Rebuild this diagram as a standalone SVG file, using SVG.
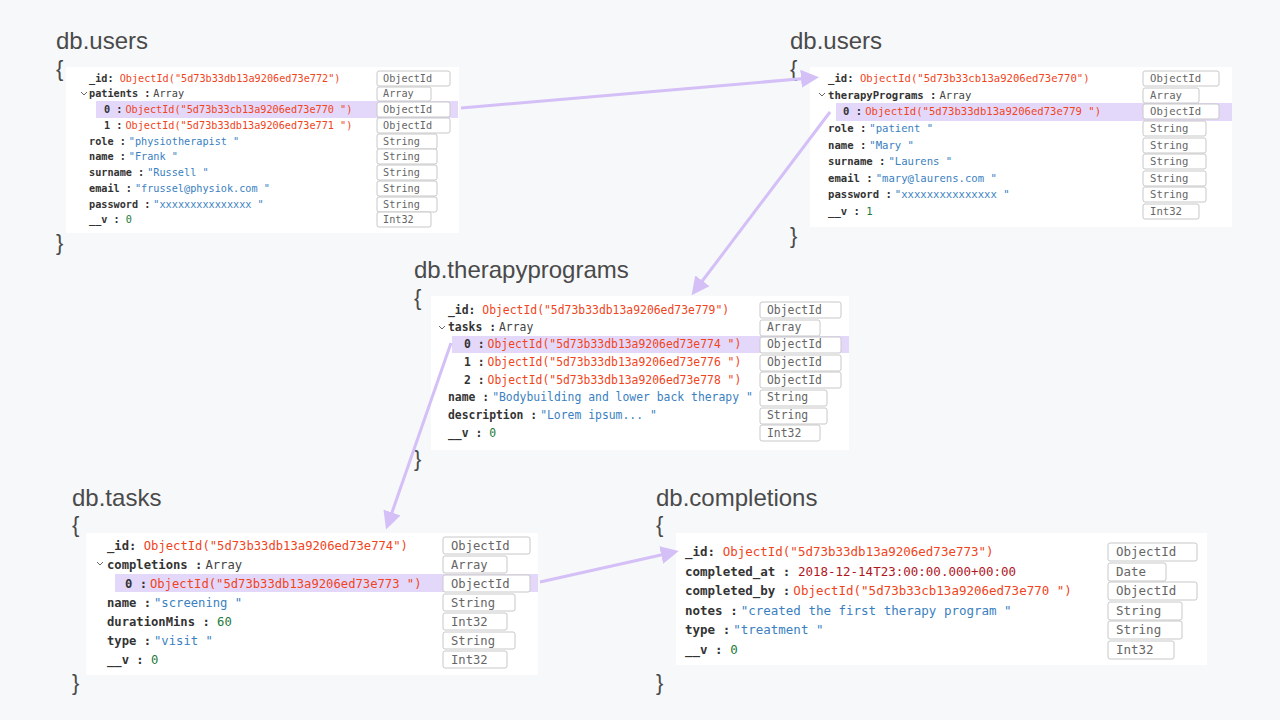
<svg xmlns="http://www.w3.org/2000/svg" width="1280" height="720" viewBox="0 0 1280 720">
<style>
.t{font-family:"Liberation Sans",Arial,sans-serif;font-size:24px;fill:#4a4a4a}
.b{font-family:"Liberation Sans",Arial,sans-serif;font-size:22px;fill:#4a4a4a}
.card{fill:#fff}
.hl{fill:#e4d8fa}
.m{font-family:"DejaVu Sans Mono",monospace}
.k{font-weight:bold;fill:#333}
.o{fill:#f0441c}
.s{fill:#3a7fc1}
.n{fill:#1c7a3a}
.d{fill:#b0161e}
.a{fill:#444}
.ty rect{fill:#fff;stroke:#c8c8c8;stroke-width:1}
.ty text{font-family:"DejaVu Sans Mono",monospace;fill:#666}
.chev{fill:none;stroke:#666;stroke-width:1}
.con{stroke:#d4bff7;stroke-width:3;fill:none;marker-end:url(#ah)}
</style>
<defs>
<marker id="ah" markerWidth="6" markerHeight="6" refX="3" refY="3" orient="auto" markerUnits="strokeWidth"><path d="M0,0L6,3L0,6z" fill="#d4bff7"/></marker>
</defs>
<rect width="1280" height="720" fill="#f7f8fa"/>

<g id="users1">
<text class="t" x="56" y="49">db.users</text>
<text class="b" x="56" y="76">{</text>
<text class="b" x="56" y="250">}</text>
<rect class="card" x="66" y="67" width="393" height="166"/>
<rect class="hl" x="96" y="101" width="362" height="17"/>
<g class="m" font-size="10.2">
<text x="89" y="82"><tspan class="k">_id:</tspan> <tspan class="o">ObjectId("5d73b33db13a9206ed73e772")</tspan></text>
<path class="chev" d="M81,92l3,3l3,-3"/>
<text x="89" y="97"><tspan class="k">patients :</tspan><tspan class="a" dx="3">Array</tspan></text>
<text x="104" y="113"><tspan class="k">0 :</tspan><tspan class="o" dx="3">ObjectId("5d73b33cb13a9206ed73e770 ")</tspan></text>
<text x="104" y="129"><tspan class="k">1 :</tspan><tspan class="o" dx="3">ObjectId("5d73b33db13a9206ed73e771 ")</tspan></text>
<text x="89" y="145"><tspan class="k">role :</tspan><tspan class="s" dx="3">"physiotherapist "</tspan></text>
<text x="89" y="160"><tspan class="k">name :</tspan><tspan class="s" dx="3">"Frank "</tspan></text>
<text x="89" y="176"><tspan class="k">surname :</tspan><tspan class="s" dx="3">"Russell "</tspan></text>
<text x="89" y="192"><tspan class="k">email :</tspan><tspan class="s" dx="3">"frussel@physiok.com "</tspan></text>
<text x="89" y="208"><tspan class="k">password :</tspan><tspan class="s" dx="3">"xxxxxxxxxxxxxxx "</tspan></text>
<text x="89" y="223"><tspan class="k">__v :</tspan> <tspan class="n">0</tspan></text>
</g>
<g class="ty" font-size="10.2">
<rect x="377" y="71" width="73" height="15" rx="2"/><text x="383" y="82">ObjectId</text>
<rect x="377" y="87" width="54" height="14" rx="2"/><text x="383" y="97">Array</text>
<rect x="377" y="102" width="73" height="15" rx="2"/><text x="383" y="113">ObjectId</text>
<rect x="377" y="118" width="73" height="15" rx="2"/><text x="383" y="129">ObjectId</text>
<rect x="377" y="134" width="60" height="15" rx="2"/><text x="383" y="145">String</text>
<rect x="377" y="149" width="60" height="15" rx="2"/><text x="383" y="160">String</text>
<rect x="377" y="165" width="60" height="15" rx="2"/><text x="383" y="176">String</text>
<rect x="377" y="181" width="60" height="15" rx="2"/><text x="383" y="192">String</text>
<rect x="377" y="197" width="60" height="15" rx="2"/><text x="383" y="208">String</text>
<rect x="377" y="212" width="54" height="15" rx="2"/><text x="383" y="223">Int32</text>
</g>
</g>

<g id="users2">
<text class="t" x="790" y="49">db.users</text>
<text class="b" x="790" y="76">{</text>
<text class="b" x="790" y="243">}</text>
<rect class="card" x="810" y="67" width="422" height="160"/>
<rect class="hl" x="836" y="103" width="396" height="18"/>
<g class="m" font-size="10.6">
<text x="828" y="82"><tspan class="k">_id:</tspan> <tspan class="o">ObjectId("5d73b33cb13a9206ed73e770")</tspan></text>
<path class="chev" d="M819,93l3,3l3,-3"/>
<text x="828" y="99"><tspan class="k">therapyPrograms :</tspan><tspan class="a" dx="3">Array</tspan></text>
<text x="843" y="115"><tspan class="k">0 :</tspan><tspan class="o" dx="3">ObjectId("5d73b33db13a9206ed73e779 ")</tspan></text>
<text x="828" y="132"><tspan class="k">role :</tspan><tspan class="s" dx="3">"patient "</tspan></text>
<text x="828" y="149"><tspan class="k">name :</tspan><tspan class="s" dx="3">"Mary "</tspan></text>
<text x="828" y="165"><tspan class="k">surname :</tspan><tspan class="s" dx="3">"Laurens "</tspan></text>
<text x="828" y="182"><tspan class="k">email :</tspan><tspan class="s" dx="3">"mary@laurens.com "</tspan></text>
<text x="828" y="198"><tspan class="k">password :</tspan><tspan class="s" dx="3">"xxxxxxxxxxxxxxx "</tspan></text>
<text x="828" y="215"><tspan class="k">__v :</tspan> <tspan class="n">1</tspan></text>
</g>
<g class="ty" font-size="10.6">
<rect x="1143" y="71" width="76" height="15" rx="2"/><text x="1150" y="82">ObjectId</text>
<rect x="1143" y="88" width="56" height="15" rx="2"/><text x="1150" y="99">Array</text>
<rect x="1143" y="104" width="76" height="15" rx="2"/><text x="1150" y="115">ObjectId</text>
<rect x="1143" y="121" width="63" height="15" rx="2"/><text x="1150" y="132">String</text>
<rect x="1143" y="138" width="63" height="15" rx="2"/><text x="1150" y="149">String</text>
<rect x="1143" y="154" width="63" height="15" rx="2"/><text x="1150" y="165">String</text>
<rect x="1143" y="171" width="63" height="15" rx="2"/><text x="1150" y="182">String</text>
<rect x="1143" y="187" width="63" height="15" rx="2"/><text x="1150" y="198">String</text>
<rect x="1143" y="204" width="56" height="15" rx="2"/><text x="1150" y="215">Int32</text>
</g>
</g>

<g id="therapyprograms">
<text class="t" x="414" y="278">db.therapyprograms</text>
<text class="b" x="414" y="305">{</text>
<text class="b" x="414" y="466">}</text>
<rect class="card" x="431" y="296" width="418" height="154"/>
<rect class="hl" x="452" y="336" width="397" height="17"/>
<g class="m" font-size="11.4">
<text x="448" y="314"><tspan class="k">_id:</tspan> <tspan class="o">ObjectId("5d73b33db13a9206ed73e779")</tspan></text>
<path class="chev" d="M439,326l3,3l3,-3"/>
<text x="448" y="331"><tspan class="k">tasks :</tspan><tspan class="a" dx="3">Array</tspan></text>
<text x="464" y="348"><tspan class="k">0 :</tspan><tspan class="o" dx="3">ObjectId("5d73b33db13a9206ed73e774 ")</tspan></text>
<text x="464" y="366"><tspan class="k">1 :</tspan><tspan class="o" dx="3">ObjectId("5d73b33db13a9206ed73e776 ")</tspan></text>
<text x="464" y="384"><tspan class="k">2 :</tspan><tspan class="o" dx="3">ObjectId("5d73b33db13a9206ed73e778 ")</tspan></text>
<text x="448" y="401"><tspan class="k">name :</tspan><tspan class="s" dx="3">"Bodybuilding and lower back therapy "</tspan></text>
<text x="448" y="419"><tspan class="k">description :</tspan><tspan class="s" dx="3">"Lorem ipsum... "</tspan></text>
<text x="448" y="437"><tspan class="k">__v :</tspan> <tspan class="n">0</tspan></text>
</g>
<g class="ty" font-size="11.4">
<rect x="760" y="302" width="81" height="16" rx="2"/><text x="767" y="314">ObjectId</text>
<rect x="760" y="320" width="60" height="16" rx="2"/><text x="767" y="331">Array</text>
<rect x="760" y="337" width="81" height="16" rx="2"/><text x="767" y="348">ObjectId</text>
<rect x="760" y="355" width="81" height="16" rx="2"/><text x="767" y="366">ObjectId</text>
<rect x="760" y="372" width="81" height="16" rx="2"/><text x="767" y="384">ObjectId</text>
<rect x="760" y="390" width="67" height="16" rx="2"/><text x="767" y="401">String</text>
<rect x="760" y="408" width="67" height="16" rx="2"/><text x="767" y="419">String</text>
<rect x="760" y="425" width="60" height="16" rx="2"/><text x="767" y="437">Int32</text>
</g>
</g>

<g id="tasks">
<text class="t" x="72" y="506">db.tasks</text>
<text class="b" x="72" y="532">{</text>
<text class="b" x="72" y="690">}</text>
<rect class="card" x="86" y="533" width="452" height="142"/>
<rect class="hl" x="115" y="574" width="423" height="18"/>
<g class="m" font-size="12.2">
<text x="107" y="550"><tspan class="k">_id:</tspan> <tspan class="o">ObjectId("5d73b33db13a9206ed73e774")</tspan></text>
<path class="chev" d="M97,562l3,3l3,-3"/>
<text x="107" y="569"><tspan class="k">completions :</tspan><tspan class="a" dx="3">Array</tspan></text>
<text x="125" y="588"><tspan class="k">0 :</tspan><tspan class="o" dx="3">ObjectId("5d73b33db13a9206ed73e773 ")</tspan></text>
<text x="107" y="607"><tspan class="k">name :</tspan><tspan class="s" dx="3">"screening "</tspan></text>
<text x="107" y="626"><tspan class="k">durationMins :</tspan> <tspan class="n">60</tspan></text>
<text x="107" y="645"><tspan class="k">type :</tspan><tspan class="s" dx="3">"visit "</tspan></text>
<text x="107" y="664"><tspan class="k">__v :</tspan> <tspan class="n">0</tspan></text>
</g>
<g class="ty" font-size="12.2">
<rect x="443" y="537" width="87" height="17" rx="2"/><text x="451" y="550">ObjectId</text>
<rect x="443" y="556" width="64" height="17" rx="2"/><text x="451" y="569">Array</text>
<rect x="443" y="575" width="87" height="17" rx="2"/><text x="451" y="588">ObjectId</text>
<rect x="443" y="594" width="72" height="17" rx="2"/><text x="451" y="607">String</text>
<rect x="443" y="613" width="64" height="17" rx="2"/><text x="451" y="626">Int32</text>
<rect x="443" y="632" width="72" height="17" rx="2"/><text x="451" y="645">String</text>
<rect x="443" y="651" width="64" height="17" rx="2"/><text x="451" y="664">Int32</text>
</g>
</g>

<g id="completions">
<text class="t" x="656" y="506">db.completions</text>
<text class="b" x="656" y="532">{</text>
<text class="b" x="656" y="690">}</text>
<rect class="card" x="676" y="533" width="531" height="132"/>
<g class="m" font-size="12.5">
<text x="685" y="556"><tspan class="k">_id:</tspan> <tspan class="o">ObjectId("5d73b33db13a9206ed73e773")</tspan></text>
<text x="685" y="576"><tspan class="k">completed_at :</tspan> <tspan class="d">2018-12-14T23:00:00.000+00:00</tspan></text>
<text x="685" y="595"><tspan class="k">completed_by :</tspan><tspan class="o" dx="3">ObjectId("5d73b33cb13a9206ed73e770 ")</tspan></text>
<text x="685" y="615"><tspan class="k">notes :</tspan><tspan class="s" dx="3">"created the first therapy program "</tspan></text>
<text x="685" y="634"><tspan class="k">type :</tspan><tspan class="s" dx="3">"treatment "</tspan></text>
<text x="685" y="654"><tspan class="k">__v :</tspan> <tspan class="n">0</tspan></text>
</g>
<g class="ty" font-size="12.5">
<rect x="1108" y="543" width="89" height="18" rx="2"/><text x="1116" y="556">ObjectId</text>
<rect x="1108" y="563" width="58" height="18" rx="2"/><text x="1116" y="576">Date</text>
<rect x="1108" y="582" width="89" height="18" rx="2"/><text x="1116" y="595">ObjectId</text>
<rect x="1108" y="602" width="74" height="18" rx="2"/><text x="1116" y="615">String</text>
<rect x="1108" y="621" width="74" height="18" rx="2"/><text x="1116" y="634">String</text>
<rect x="1108" y="641" width="66" height="18" rx="2"/><text x="1116" y="654">Int32</text>
</g>
</g>

<g id="connectors">
<path class="con" d="M461,108L810,78"/>
<path class="con" d="M830,112L697,288"/>
<path class="con" d="M451,343L389,521"/>
<path class="con" d="M540,582L670,553"/>
</g>
</svg>
